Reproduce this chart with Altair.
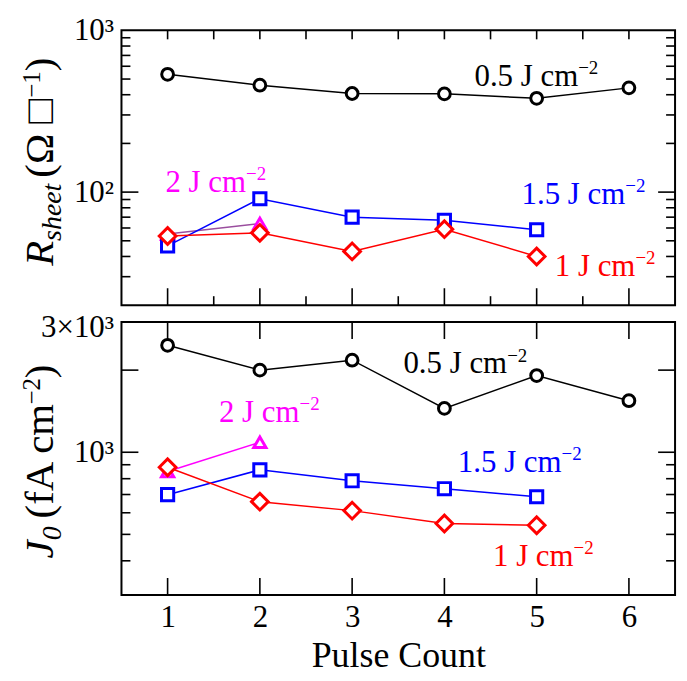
import altair as alt
import pandas as pd

# ---------------- data ----------------
pulse = [1, 2, 3, 4, 5, 6]
series_keys = ["0.5", "2", "1.5", "1"]
series_colors = ["#000000", "#ff00ff", "#0000ff", "#ff0000"]
series_shapes = ["circle", "triangle-up", "square", "diamond"]
series_sizes = [140, 150, 150, 280]

rsheet_05 = [535, 458, 407, 405, 380, 441]
rsheet_2 = [55, 64]
rsheet_15 = [46.5, 91, 70, 67, 58.5]
rsheet_1 = [53.5, 56, 43, 59, 40]

j0_05 = [2466, 2000, 2175, 1448, 1910, 1545]
j0_2 = [850, 1088]
j0_15 = [699, 862, 786, 735, 687]
j0_1 = [881, 659, 611, 548, 540]

ann_text = ["0.5 J cm", "2 J cm", "1.5 J cm", "1 J cm"]
ann_sup = "\u22122"
top_ann_x = [5.45, 1.85, 5.96, 6.07]
top_ann_y = [452, 100, 85, 30.3]
bot_ann_x = [4.68, 2.43, 5.27, 5.40]
bot_ann_y = [1944, 1296, 846, 384]

x_major = [1, 2, 3, 4, 5, 6]
x_minor = [1.5, 2.5, 3.5, 4.5, 5.5]
top_y_major = [100]
top_y_minor = [30, 40, 50, 60, 70, 80, 90, 200, 300, 400, 500, 600, 700, 800, 900]
bot_y_major = [1000, 2000]
bot_y_minor = [400, 500, 600, 700, 800, 900]

top_y_labels = {100: "10²", 1000: "10³"}
bot_y_labels = {1000: "10³", 3000: "3×10³"}

# ---------------- layout / style ----------------
W = 556
H_TOP = 276
H_BOT = 274
FONT = "Liberation Serif"
LONG = 17
SHORT = 9

xscale = alt.Scale(domain=[0.5, 6.5], nice=False, zero=False)
top_yscale = alt.Scale(type="log", domain=[20, 1000], nice=False)
bot_yscale = alt.Scale(type="log", domain=[300, 3000], nice=False)

top_xaxis = None
bot_xaxis = alt.Axis(values=pulse, format="d", title="Pulse Count", labelFontSize=31,
                     labelPadding=8, titleFontSize=36, titlePadding=6, labelAngle=0,
                     labelFont=FONT, titleFont=FONT, titleFontWeight="normal",
                     labelColor="black", titleColor="black", grid=False, domain=False,
                     ticks=False, tickSize=0)
top_yaxis = alt.Axis(values=list(top_y_labels.keys()),
                     labelExpr="datum.value >= 1000 ? '10³' : '10²'",
                     title=None, labelFontSize=31, labelPadding=8, labelFont=FONT,
                     labelColor="black", grid=False, domain=False, ticks=False, tickSize=0)
bot_yaxis = alt.Axis(values=list(bot_y_labels.keys()),
                     labelExpr="datum.value >= 3000 ? '3×10³' : '10³'",
                     title=None, labelFontSize=31, labelPadding=8, labelFont=FONT,
                     labelColor="black", grid=False, domain=False, ticks=False, tickSize=0,
                     labelFlush=True, labelFlushOffset=10)

one = pd.DataFrame({"a": [0]})

METRICS_R = {" ": 0.25, "(": 0.333, ")": 0.333, "Ω": 0.768, "□": 0.604, "f": 0.333,
             "A": 0.722, "c": 0.444, "m": 0.778, "\u2212": 0.564, "1": 0.5, "2": 0.5, "0": 0.5}
METRICS_I = {"R": 0.611, "s": 0.389, "h": 0.5, "e": 0.444, "t": 0.278, "J": 0.444, "0": 0.5}


def text_width(t, italic, size):
    m = METRICS_I if italic else METRICS_R
    return sum(m.get(ch, 0.5) for ch in t) * size


def title_layers(pieces, center_y, xb):
    total = sum(text_width(t, it, s) + g for t, it, s, _, g in pieces)
    y = center_y + total / 2
    layers = []
    for t, it, s, shift, gap in pieces:
        layers.append(
            alt.Chart(one).mark_text(text=t, angle=270, align="left", baseline="alphabetic",
                                     font=FONT, fontSize=s,
                                     fontStyle="italic" if it else "normal", color="black")
            .encode(x=alt.value(xb + shift), y=alt.value(y))
        )
        y -= text_width(t, it, s) + gap
    return layers


def panel(values, line_colors, yscale, xaxis, yaxis, ann_x, ann_y, y_major, y_minor, H,
          x_top_ticks, x_bot_ticks, title_pieces, title_center, anchors):
    X = alt.X("x:Q", scale=xscale, axis=xaxis)
    Y = alt.Y("y:Q", scale=yscale, axis=yaxis)
    layers = []
    # frame ticks (inward)
    for vals, L in [(y_major, LONG), (y_minor, SHORT)]:
        d = pd.DataFrame({"y": vals})
        layers.append(alt.Chart(d).mark_rule(color="black", strokeWidth=1.6)
                      .encode(y=Y, x=alt.value(0), x2=alt.value(L)))
        layers.append(alt.Chart(d).mark_rule(color="black", strokeWidth=1.6)
                      .encode(y=Y, x=alt.value(W), x2=alt.value(W - L)))
    for vals, L in x_top_ticks:
        d = pd.DataFrame({"x": vals})
        layers.append(alt.Chart(d).mark_rule(color="black", strokeWidth=1.6)
                      .encode(x=X, y=alt.value(0), y2=alt.value(L)))
    for vals, L in x_bot_ticks:
        d = pd.DataFrame({"x": vals})
        layers.append(alt.Chart(d).mark_rule(color="black", strokeWidth=1.6)
                      .encode(x=X, y=alt.value(H), y2=alt.value(H - L)))
    # lines
    dfs = [pd.DataFrame({"x": pulse[:len(v)], "y": v}) for v in values]
    for d, c in zip(dfs, line_colors):
        layers.append(alt.Chart(d).mark_line(color=c, strokeWidth=1.5).encode(x=X, y=Y))
    # markers
    for d, c, sh, sz in zip(dfs, series_colors, series_shapes, series_sizes):
        layers.append(alt.Chart(d).mark_point(shape=sh, size=sz, filled=True, fill="white",
                                              fillOpacity=1, stroke=c, strokeWidth=3, opacity=1)
                      .encode(x=X, y=Y))
    # annotations
    for t, ax, ay, c in zip(ann_text, ann_x, ann_y, series_colors):
        d = pd.DataFrame({"x": [ax], "y": [ay]})
        layers.append(alt.Chart(d).mark_text(text=t, align="right", baseline="alphabetic",
                                             font=FONT, fontSize=31, color=c)
                      .encode(x=X, y=Y))
        layers.append(alt.Chart(d).mark_text(text=ann_sup, align="left", baseline="alphabetic",
                                             font=FONT, fontSize=19, color=c, dx=0, dy=-12)
                      .encode(x=X, y=Y))
    layers += title_layers(title_pieces, title_center, -69)
    for ax_, ay_ in anchors:
        layers.append(alt.Chart(one).mark_rule(color="white", strokeWidth=1)
                      .encode(x=alt.value(ax_), x2=alt.value(ax_ + 1), y=alt.value(ay_)))
    return alt.layer(*layers).properties(width=W, height=H)


# (text, italic, size, baseline shift, extra gap after)
top_title = [("R", True, 41, 0, 0), ("sheet", True, 28, 8, 6), ("(Ω □", False, 41, 0, 0),
             ("\u22121", False, 25, -13, 0), (")", False, 41, 0, 0)]
bot_title = [("J", True, 41, 0, 0), ("0", True, 28, 8, 8), ("(fA cm", False, 41, 0, -3),
             ("\u22122", False, 25, -13, 0), (")", False, 41, 0, 0)]

top_line_colors = ["#000000", "#9a4e9e", "#0000ff", "#ff0000"]

top = panel([rsheet_05, rsheet_2, rsheet_15, rsheet_1], top_line_colors, top_yscale,
            top_xaxis, top_yaxis,
            top_ann_x, top_ann_y, top_y_major, top_y_minor, H_TOP,
            [(x_major + x_minor, SHORT)], [(x_major, LONG), (x_minor, SHORT)],
            top_title, 132, [(-120.5, -27)])
bottom = panel([j0_05, j0_2, j0_15, j0_1], series_colors, bot_yscale, bot_xaxis, bot_yaxis,
               bot_ann_x, bot_ann_y, bot_y_major, bot_y_minor, H_BOT,
               [(x_major, LONG)], [(x_major, LONG)],
               bot_title, 140, [(W + 9, H_BOT + 86.5)])

chart = (
    alt.vconcat(top, bottom, spacing=17, bounds="flush", padding=0, background="white")
    .configure_view(stroke="black", strokeWidth=2)
    .configure_axis(labelFont=FONT, titleFont=FONT, labelColor="black", titleColor="black",
                    titleFontWeight="normal", grid=False, domain=False, ticks=False, tickSize=0)
)

chart.save("out.html", embed_options={"renderer": "svg", "actions": False})
